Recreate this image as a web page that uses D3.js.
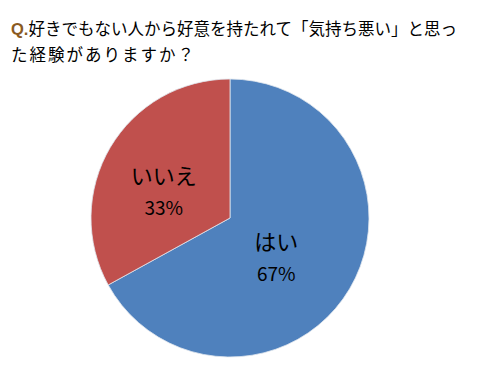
<!DOCTYPE html>
<meta charset="UTF-8">
<style>
    body { margin: 0; background: #fff; }
    svg text { font-family: "Noto Sans CJK JP", "Noto Sans", sans-serif; fill: #000; }
</style>
<body>
<div id="chart"></div>
<script src="https://d3js.org/d3.v7.min.js"></script>
<script>

    // chart data
    var titleLines = ["好きでもない人から好意を持たれて「気持ち悪い」と思っ", "た経験がありますか？"];
    var categories = ["はい", "いいえ"];
    var values = [67, 33];
    var colors = ["#4F81BD", "#C0504D"];

    var width = 479, height = 375;
    var cx = 230, cy = 218, radius = 139;

    var svg = d3.select("#chart").append("svg")
        .attr("width", width)
        .attr("height", height);

    // title
    var title = svg.append("text")
        .attr("x", 11)
        .attr("y", 35)
        .style("font-size", "16.5px");
    title.append("tspan")
        .style("font-weight", "bold")
        .style("fill", "#8a5a22")
        .style("font-family", "Arial, 'Liberation Sans', sans-serif")
        .text("Q.");
    title.append("tspan").text(titleLines[0]);

    svg.append("text")
        .attr("x", 11)
        .attr("y", 61)
        .style("font-size", "16.5px")
        .style("letter-spacing", "2px")
        .text(titleLines[1]);

    var data = categories.map(function(c, i) { return {name: c, value: values[i], color: colors[i]}; });

    var pie = d3.pie()
        .sort(null)
        .value(function(d) { return d.value; });

    var arc = d3.arc().innerRadius(0).outerRadius(radius);
    var labelArc = d3.arc().innerRadius(radius * 0.47).outerRadius(radius * 0.47);

    var g = svg.append("g")
        .attr("transform", "translate(" + cx + "," + cy + ")");

    var slices = g.selectAll(".slice")
        .data(pie(data))
        .enter().append("g")
        .attr("class", "slice");

    slices.append("path")
        .attr("d", arc)
        .attr("fill", function(d) { return d.data.color; })
        .attr("stroke", "#dfe6ee")
        .attr("stroke-width", 0.8);

    // labels, nudged a little left like the original
    slices.append("text")
        .attr("transform", function(d) { return "translate(" + labelArc.centroid(d) + ")"; })
        .attr("text-anchor", "middle")
        .attr("x", -10)
        .attr("y", -1)
        .style("font-size", "22px")
        .text(function(d) { return d.data.name; });

    slices.append("text")
        .attr("transform", function(d) { return "translate(" + labelArc.centroid(d) + ")"; })
        .attr("text-anchor", "middle")
        .attr("x", -10)
        .attr("y", 30)
        .style("font-size", "19px")
        .text(function(d) { return d.data.value + "%"; });

</script>
</body>
